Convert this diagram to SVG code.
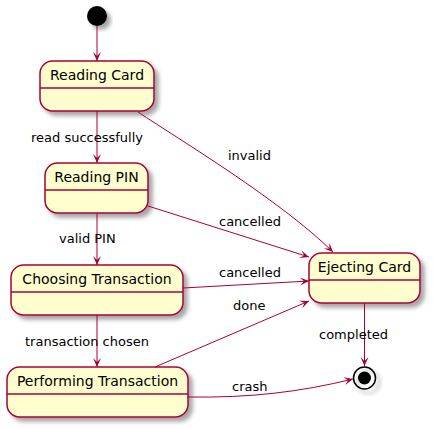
<svg xmlns="http://www.w3.org/2000/svg" width="433" height="430" viewBox="0 0 433 430">
<style>
.st{fill:#FEFECE;stroke:#A80036;stroke-width:1.5;filter:url(#sh)}
.dv{stroke:#A80036;stroke-width:1.5}
.tt{font-family:"DejaVu Sans",sans-serif;font-size:14px;fill:#000;text-anchor:middle}
.lb{font-family:"DejaVu Sans",sans-serif;font-size:13px;fill:#000}
.ed{fill:none;stroke:#A80036;stroke-width:1;marker-end:url(#ah)}
</style>
<defs>
<filter id="sh" x="-20%" y="-20%" width="150%" height="150%">
<feDropShadow dx="4" dy="4" stdDeviation="2" flood-color="#000" flood-opacity="0.35"/>
</filter>
<marker id="ah" viewBox="-10 -5 11 10" refX="0" refY="0" markerWidth="11" markerHeight="10" orient="auto" markerUnits="userSpaceOnUse">
<path d="M0,0 L-9,-4 L-5,0 L-9,4 Z" fill="#A80036"/>
</marker>
</defs>
<g id="start">
<circle cx="97" cy="16" r="10" fill="#000" filter="url(#sh)"/>
</g>
<g id="reading-card">
<rect class="st" x="40" y="61" width="114" height="50" rx="12.5" ry="12.5"/>
<line class="dv" x1="40" y1="88" x2="154" y2="88"/>
<text class="tt" x="97" y="80">Reading Card</text>
</g>
<g id="reading-pin">
<rect class="st" x="45" y="163" width="103" height="50" rx="12.5" ry="12.5"/>
<line class="dv" x1="45" y1="190" x2="148" y2="190"/>
<text class="tt" x="96.5" y="182">Reading PIN</text>
</g>
<g id="choosing-transaction">
<rect class="st" x="11" y="265" width="172" height="50" rx="12.5" ry="12.5"/>
<line class="dv" x1="11" y1="292" x2="183" y2="292"/>
<text class="tt" x="97" y="284">Choosing Transaction</text>
</g>
<g id="performing-transaction">
<rect class="st" x="7" y="367" width="181" height="50" rx="12.5" ry="12.5"/>
<line class="dv" x1="7" y1="394" x2="188" y2="394"/>
<text class="tt" x="97.5" y="386">Performing Transaction</text>
</g>
<g id="ejecting-card">
<rect class="st" x="309" y="253" width="111" height="50" rx="12.5" ry="12.5"/>
<line class="dv" x1="309" y1="280" x2="420" y2="280"/>
<text class="tt" x="364.5" y="272">Ejecting Card</text>
</g>
<g id="end">
<circle cx="364.5" cy="378" r="11" fill="none" stroke="#000" stroke-width="1.5" filter="url(#sh)"/>
<circle cx="364.5" cy="378" r="6.5" fill="#000"/>
</g>
<g id="connectors">
<path class="ed" d="M97,26 L97,61"/>
<path class="ed" d="M97,111 L97,163"/>
<text class="lb" x="31" y="142">read successfully</text>
<path class="ed" d="M138,112 C180,140 280,200 333,252"/>
<text class="lb" x="228" y="160">invalid</text>
<path class="ed" d="M148,206 L309,257"/>
<text class="lb" x="219" y="226">cancelled</text>
<path class="ed" d="M97,213 L97,265"/>
<text class="lb" x="59" y="243">valid PIN</text>
<path class="ed" d="M183,288 L309,281"/>
<text class="lb" x="219" y="277">cancelled</text>
<path class="ed" d="M97,315 L97,367"/>
<text class="lb" x="25" y="346">transaction chosen</text>
<path class="ed" d="M155,367 L309,301"/>
<text class="lb" x="233" y="310">done</text>
<path class="ed" d="M364.5,303 L364.5,366"/>
<text class="lb" x="319" y="339">completed</text>
<path class="ed" d="M188,397 C250,398 300,392 353,379"/>
<text class="lb" x="232" y="391">crash</text>
</g>
</svg>
